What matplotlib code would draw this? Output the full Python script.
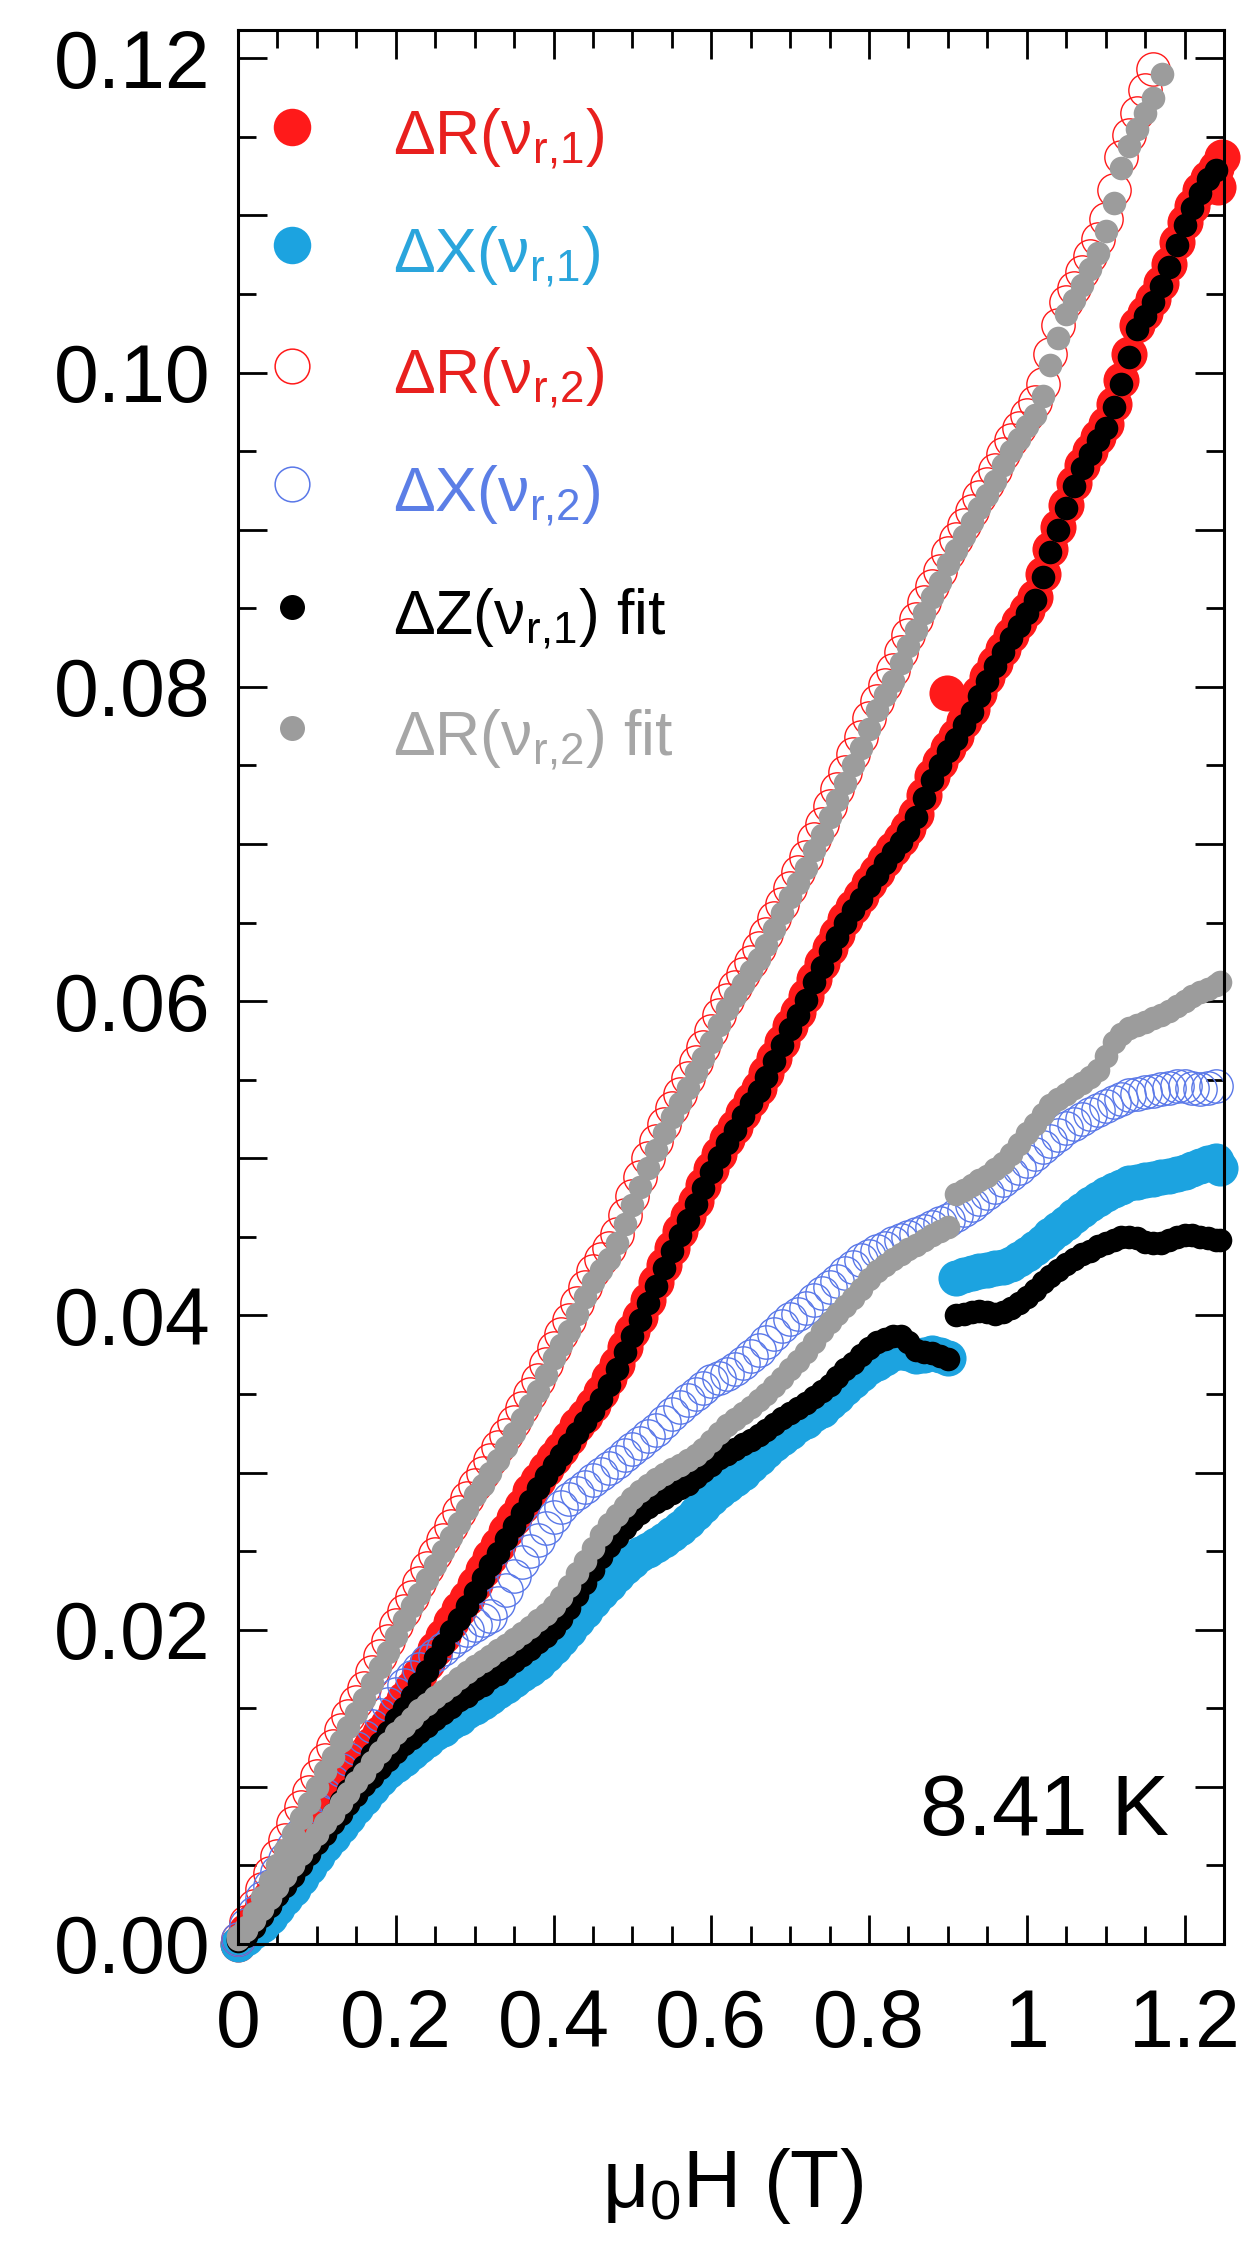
import numpy as np
import matplotlib
matplotlib.use("Agg")
import matplotlib.pyplot as plt
from matplotlib.ticker import MultipleLocator, FuncFormatter

plt.rcParams['font.family'] = ['Liberation Sans', 'DejaVu Sans']
plt.rcParams['mathtext.fontset'] = 'custom'
plt.rcParams['mathtext.rm'] = 'Liberation Sans'
plt.rcParams['mathtext.it'] = 'Liberation Sans:italic'
plt.rcParams['mathtext.bf'] = 'Liberation Sans:bold'

# field values (T)
field_a = [0.00, 0.01, 0.02, 0.03, 0.04, 0.05, 0.06, 0.07, 0.08, 0.09,
           0.10, 0.11, 0.12, 0.13, 0.14, 0.15, 0.16, 0.17, 0.18, 0.19,
           0.20, 0.21, 0.22, 0.23, 0.24, 0.25, 0.26, 0.27, 0.28, 0.29,
           0.30, 0.31, 0.32, 0.33, 0.34, 0.35, 0.36, 0.37, 0.38, 0.39,
           0.40, 0.41, 0.42, 0.43, 0.44, 0.45, 0.46, 0.47, 0.48, 0.49,
           0.50, 0.51, 0.52, 0.53, 0.54, 0.55, 0.56, 0.57, 0.58, 0.59,
           0.60, 0.61, 0.62, 0.63, 0.64, 0.65, 0.66, 0.67, 0.68, 0.69,
           0.70, 0.71, 0.72, 0.73, 0.74, 0.75, 0.76, 0.77, 0.78, 0.79,
           0.80, 0.81, 0.82, 0.83, 0.84, 0.85, 0.86, 0.87, 0.88, 0.89,
           0.90, 0.91, 0.92, 0.93, 0.94, 0.95, 0.96, 0.97, 0.98, 0.99,
           1.00, 1.01, 1.02, 1.03, 1.04, 1.05, 1.06, 1.07, 1.08, 1.09,
           1.10, 1.11, 1.12, 1.13, 1.14, 1.15, 1.16, 1.17, 1.18, 1.19,
           1.20, 1.21, 1.22, 1.23, 1.24]
field_r2 = field_a[:117]             # 0 .. 1.16
field_lo = field_a[:91]              # 0 .. 0.90, below the jump
field_hi = field_a[91:] + [1.245]    # 0.91 .. 1.245, above the jump

# dR(nu_r,1)  red filled
dR1 = [0.0000, 0.0008, 0.0015, 0.0023, 0.0030, 0.0037, 0.0045, 0.0053, 0.0060, 0.0068,
       0.0075, 0.0082, 0.0090, 0.0097, 0.0105, 0.0113, 0.0119, 0.0127, 0.0134, 0.0140,
       0.0148, 0.0156, 0.0163, 0.0171, 0.0179, 0.0188, 0.0196, 0.0205, 0.0213, 0.0220,
       0.0229, 0.0238, 0.0246, 0.0254, 0.0263, 0.0271, 0.0279, 0.0288, 0.0295, 0.0302,
       0.0309, 0.0315, 0.0322, 0.0330, 0.0336, 0.0343, 0.0351, 0.0360, 0.0369, 0.0380,
       0.0390, 0.0399, 0.0410, 0.0421, 0.0432, 0.0443, 0.0454, 0.0463, 0.0473, 0.0483,
       0.0493, 0.0503, 0.0512, 0.0520, 0.0529, 0.0537, 0.0545, 0.0554, 0.0564, 0.0574,
       0.0584, 0.0593, 0.0603, 0.0614, 0.0624, 0.0634, 0.0643, 0.0652, 0.0660, 0.0667,
       0.0675, 0.0682, 0.0690, 0.0697, 0.0703, 0.0710, 0.0719, 0.0731, 0.0743, 0.0752,
       0.0761, 0.0769, 0.0778, 0.0786, 0.0796, 0.0806, 0.0815, 0.0824, 0.0833, 0.0841,
       0.0849, 0.0857, 0.0872, 0.0888, 0.0902, 0.0916, 0.0930, 0.0941, 0.0950, 0.0959,
       0.0967, 0.0980, 0.0995, 0.1012, 0.1030, 0.1038, 0.1047, 0.1057, 0.1069, 0.1083,
       0.1096, 0.1106, 0.1116, 0.1124, 0.1130]
dR1_extra_x = [0.899, 1.247, 1.243]
dR1_extra_y = [0.0796, 0.1137, 0.1118]

# dX(nu_r,1)  light blue filled, below / above the jump
dX1_lo = [0.0000, 0.0004, 0.0008, 0.0012, 0.0017, 0.0023, 0.0029, 0.0035, 0.0042, 0.0049,
          0.0056, 0.0063, 0.0069, 0.0075, 0.0081, 0.0087, 0.0093, 0.0099, 0.0105, 0.0110,
          0.0114, 0.0118, 0.0122, 0.0126, 0.0130, 0.0134, 0.0137, 0.0141, 0.0144, 0.0148,
          0.0151, 0.0154, 0.0157, 0.0161, 0.0164, 0.0168, 0.0172, 0.0175, 0.0179, 0.0184,
          0.0189, 0.0194, 0.0200, 0.0206, 0.0212, 0.0218, 0.0224, 0.0229, 0.0235, 0.0240,
          0.0244, 0.0248, 0.0251, 0.0254, 0.0257, 0.0261, 0.0265, 0.0269, 0.0274, 0.0279,
          0.0284, 0.0288, 0.0292, 0.0296, 0.0300, 0.0305, 0.0309, 0.0314, 0.0318, 0.0322,
          0.0326, 0.0330, 0.0333, 0.0337, 0.0340, 0.0345, 0.0349, 0.0354, 0.0358, 0.0363,
          0.0367, 0.0370, 0.0373, 0.0376, 0.0377, 0.0376, 0.0374, 0.0375, 0.0376, 0.0375,
          0.0373]
dX1_hi = [0.0424, 0.0426, 0.0427, 0.0428, 0.0429, 0.0430, 0.0431, 0.0433, 0.0436, 0.0439,
          0.0443, 0.0447, 0.0451, 0.0455, 0.0459, 0.0463, 0.0467, 0.0471, 0.0474, 0.0477,
          0.0480, 0.0482, 0.0484, 0.0485, 0.0486, 0.0487, 0.0488, 0.0489, 0.0490, 0.0491,
          0.0493, 0.0495, 0.0497, 0.0498, 0.0494]

# dR(nu_r,2)  red open, 0 .. 1.16
dR2 = [0.0003, 0.0014, 0.0024, 0.0035, 0.0045, 0.0056, 0.0066, 0.0077, 0.0087, 0.0097,
       0.0107, 0.0117, 0.0126, 0.0136, 0.0145, 0.0154, 0.0163, 0.0173, 0.0183, 0.0193,
       0.0203, 0.0212, 0.0221, 0.0230, 0.0239, 0.0248, 0.0257, 0.0266, 0.0275, 0.0284,
       0.0292, 0.0300, 0.0308, 0.0316, 0.0324, 0.0332, 0.0341, 0.0350, 0.0359, 0.0369,
       0.0379, 0.0388, 0.0397, 0.0408, 0.0418, 0.0428, 0.0436, 0.0443, 0.0452, 0.0464,
       0.0476, 0.0488, 0.0500, 0.0511, 0.0522, 0.0532, 0.0541, 0.0551, 0.0561, 0.0571,
       0.0581, 0.0591, 0.0601, 0.0609, 0.0617, 0.0625, 0.0634, 0.0643, 0.0653, 0.0662,
       0.0672, 0.0682, 0.0692, 0.0703, 0.0713, 0.0724, 0.0735, 0.0746, 0.0757, 0.0768,
       0.0780, 0.0791, 0.0801, 0.0811, 0.0822, 0.0833, 0.0843, 0.0854, 0.0864, 0.0874,
       0.0885, 0.0894, 0.0903, 0.0912, 0.0921, 0.0929, 0.0938, 0.0948, 0.0957, 0.0965,
       0.0973, 0.0981, 0.0993, 0.1012, 0.1030, 0.1045, 0.1054, 0.1064, 0.1074, 0.1085,
       0.1098, 0.1116, 0.1137, 0.1151, 0.1165, 0.1180, 0.1193]

# dX(nu_r,2)  blue open
dX2 = [0.0003, 0.0012, 0.0020, 0.0029, 0.0037, 0.0046, 0.0054, 0.0062, 0.0070, 0.0078,
       0.0086, 0.0095, 0.0103, 0.0111, 0.0118, 0.0125, 0.0132, 0.0139, 0.0146, 0.0153,
       0.0159, 0.0165, 0.0170, 0.0175, 0.0180, 0.0184, 0.0188, 0.0192, 0.0196, 0.0200,
       0.0203, 0.0206, 0.0209, 0.0217, 0.0225, 0.0234, 0.0243, 0.0250, 0.0257, 0.0265,
       0.0272, 0.0278, 0.0283, 0.0287, 0.0291, 0.0295, 0.0299, 0.0303, 0.0307, 0.0311,
       0.0315, 0.0319, 0.0323, 0.0327, 0.0332, 0.0337, 0.0342, 0.0346, 0.0350, 0.0354,
       0.0358, 0.0360, 0.0363, 0.0366, 0.0370, 0.0374, 0.0378, 0.0383, 0.0388, 0.0393,
       0.0398, 0.0401, 0.0405, 0.0410, 0.0414, 0.0418, 0.0422, 0.0427, 0.0431, 0.0435,
       0.0438, 0.0441, 0.0443, 0.0446, 0.0448, 0.0450, 0.0452, 0.0454, 0.0456, 0.0459,
       0.0461, 0.0464, 0.0467, 0.0470, 0.0474, 0.0478, 0.0482, 0.0486, 0.0490, 0.0494,
       0.0498, 0.0503, 0.0507, 0.0511, 0.0515, 0.0519, 0.0522, 0.0525, 0.0528, 0.0531,
       0.0533, 0.0536, 0.0538, 0.0540, 0.0541, 0.0542, 0.0543, 0.0544, 0.0545, 0.0546,
       0.0546, 0.0545, 0.0544, 0.0545, 0.0546]

# dZ(nu_r,1) fit  black: track on dR1, and track on dX1 (two pieces)
fitZ_up = [0.0002, 0.0005, 0.0011, 0.0018, 0.0024, 0.0031, 0.0038, 0.0046, 0.0053, 0.0061,
           0.0068, 0.0076, 0.0083, 0.0091, 0.0098, 0.0106, 0.0113, 0.0121, 0.0128, 0.0135,
           0.0143, 0.0150, 0.0158, 0.0166, 0.0174, 0.0182, 0.0190, 0.0199, 0.0207, 0.0215,
           0.0224, 0.0233, 0.0241, 0.0249, 0.0258, 0.0266, 0.0274, 0.0282, 0.0290, 0.0298,
           0.0305, 0.0311, 0.0318, 0.0325, 0.0332, 0.0339, 0.0347, 0.0356, 0.0366, 0.0377,
           0.0387, 0.0397, 0.0408, 0.0419, 0.0430, 0.0441, 0.0451, 0.0461, 0.0471, 0.0481,
           0.0491, 0.0501, 0.0510, 0.0518, 0.0527, 0.0535, 0.0543, 0.0552, 0.0562, 0.0572,
           0.0582, 0.0591, 0.0601, 0.0612, 0.0622, 0.0632, 0.0641, 0.0650, 0.0658, 0.0665,
           0.0673, 0.0680, 0.0688, 0.0695, 0.0701, 0.0708, 0.0717, 0.0729, 0.0741, 0.0750,
           0.0759, 0.0767, 0.0776, 0.0784, 0.0794, 0.0804, 0.0813, 0.0822, 0.0831, 0.0839,
           0.0847, 0.0855, 0.0870, 0.0886, 0.0900, 0.0914, 0.0928, 0.0939, 0.0948, 0.0957,
           0.0965, 0.0978, 0.0993, 0.1010, 0.1028, 0.1036, 0.1045, 0.1055, 0.1067, 0.1081,
           0.1094, 0.1105, 0.1114, 0.1123, 0.1129]
fitZ_lo = [0.0003, 0.0008, 0.0014, 0.0019, 0.0025, 0.0031, 0.0037, 0.0043, 0.0050, 0.0057,
           0.0064, 0.0070, 0.0077, 0.0083, 0.0089, 0.0095, 0.0101, 0.0106, 0.0112, 0.0117,
           0.0122, 0.0127, 0.0131, 0.0135, 0.0139, 0.0143, 0.0147, 0.0151, 0.0155, 0.0158,
           0.0162, 0.0165, 0.0169, 0.0172, 0.0176, 0.0180, 0.0184, 0.0188, 0.0192, 0.0196,
           0.0201, 0.0207, 0.0214, 0.0222, 0.0230, 0.0238, 0.0246, 0.0253, 0.0259, 0.0265,
           0.0270, 0.0274, 0.0278, 0.0281, 0.0284, 0.0287, 0.0290, 0.0293, 0.0297, 0.0301,
           0.0305, 0.0309, 0.0312, 0.0315, 0.0318, 0.0321, 0.0324, 0.0327, 0.0331, 0.0335,
           0.0338, 0.0341, 0.0344, 0.0348, 0.0352, 0.0356, 0.0361, 0.0366, 0.0370, 0.0375,
           0.0379, 0.0383, 0.0385, 0.0387, 0.0387, 0.0383, 0.0378, 0.0377, 0.0376, 0.0374,
           0.0372]
fitZ_hi = [0.0400, 0.0401, 0.0402, 0.0403, 0.0402, 0.0401, 0.0402, 0.0405, 0.0408, 0.0412,
           0.0416, 0.0421, 0.0425, 0.0429, 0.0433, 0.0436, 0.0439, 0.0441, 0.0444, 0.0446,
           0.0448, 0.0450, 0.0450, 0.0449, 0.0447, 0.0446, 0.0446, 0.0448, 0.0450, 0.0451,
           0.0451, 0.0450, 0.0449, 0.0448, 0.0448]

# dR(nu_r,2) fit  gray: track on dR2, and lower track (two pieces)
fitR_up = [0.0005, 0.0011, 0.0020, 0.0030, 0.0040, 0.0050, 0.0060, 0.0070, 0.0080, 0.0090,
           0.0100, 0.0110, 0.0119, 0.0129, 0.0138, 0.0147, 0.0156, 0.0166, 0.0176, 0.0186,
           0.0196, 0.0206, 0.0215, 0.0223, 0.0232, 0.0241, 0.0250, 0.0259, 0.0268, 0.0277,
           0.0286, 0.0292, 0.0300, 0.0308, 0.0316, 0.0325, 0.0334, 0.0343, 0.0352, 0.0362,
           0.0373, 0.0381, 0.0390, 0.0401, 0.0412, 0.0421, 0.0429, 0.0436, 0.0446, 0.0458,
           0.0470, 0.0482, 0.0494, 0.0505, 0.0516, 0.0526, 0.0535, 0.0545, 0.0555, 0.0564,
           0.0574, 0.0585, 0.0595, 0.0603, 0.0611, 0.0619, 0.0627, 0.0636, 0.0646, 0.0656,
           0.0666, 0.0675, 0.0685, 0.0696, 0.0706, 0.0717, 0.0728, 0.0739, 0.0750, 0.0761,
           0.0773, 0.0785, 0.0795, 0.0804, 0.0815, 0.0826, 0.0836, 0.0847, 0.0857, 0.0867,
           0.0878, 0.0887, 0.0896, 0.0905, 0.0914, 0.0922, 0.0931, 0.0941, 0.0950, 0.0958,
           0.0966, 0.0973, 0.0985, 0.1005, 0.1022, 0.1037, 0.1046, 0.1056, 0.1066, 0.1076,
           0.1090, 0.1108, 0.1130, 0.1144, 0.1155, 0.1165, 0.1175]
fitR_up_end_x = [1.172]
fitR_up_end_y = [0.1190]
fitR_lo = [0.0003, 0.0009, 0.0015, 0.0022, 0.0029, 0.0036, 0.0043, 0.0050, 0.0057, 0.0064,
           0.0070, 0.0077, 0.0083, 0.0090, 0.0096, 0.0103, 0.0109, 0.0116, 0.0122, 0.0128,
           0.0134, 0.0139, 0.0144, 0.0149, 0.0153, 0.0157, 0.0161, 0.0165, 0.0169, 0.0173,
           0.0177, 0.0180, 0.0183, 0.0187, 0.0190, 0.0194, 0.0198, 0.0202, 0.0206, 0.0210,
           0.0215, 0.0221, 0.0228, 0.0236, 0.0244, 0.0252, 0.0260, 0.0267, 0.0273, 0.0279,
           0.0284, 0.0288, 0.0292, 0.0296, 0.0299, 0.0302, 0.0305, 0.0308, 0.0311, 0.0315,
           0.0320, 0.0325, 0.0330, 0.0334, 0.0338, 0.0342, 0.0346, 0.0350, 0.0355, 0.0360,
           0.0366, 0.0371, 0.0377, 0.0383, 0.0390, 0.0396, 0.0401, 0.0406, 0.0411, 0.0417,
           0.0423, 0.0428, 0.0432, 0.0436, 0.0439, 0.0442, 0.0445, 0.0448, 0.0451, 0.0454,
           0.0456]
fitR_hi = [0.0477, 0.0480, 0.0483, 0.0486, 0.0489, 0.0493, 0.0497, 0.0503, 0.0509, 0.0516,
           0.0522, 0.0528, 0.0534, 0.0538, 0.0541, 0.0545, 0.0548, 0.0552, 0.0556, 0.0565,
           0.0574, 0.0579, 0.0583, 0.0585, 0.0587, 0.0589, 0.0591, 0.0594, 0.0597, 0.0600,
           0.0603, 0.0606, 0.0608, 0.0610, 0.0612]

assert len(dR1) == len(field_a) == len(dX2) == len(fitZ_up)
assert len(dR2) == len(fitR_up) == len(field_r2)
assert len(dX1_lo) == len(fitZ_lo) == len(fitR_lo) == len(field_lo)
assert len(dX1_hi) == len(fitZ_hi) == len(fitR_hi) == len(field_hi)

RED = '#ff1a1a'
LBLUE = '#1ca3e0'
VBLUE = '#5a78e8'
GRAY = '#9c9c9c'

fig = plt.figure(figsize=(12.5, 22.44), dpi=100)
ax = fig.add_axes([238 / 1250, 1 - 1944 / 2244, 986 / 1250, 1914 / 2244])

kw = dict(ls='none', clip_on=False)
ax.plot(field_a + dR1_extra_x, dR1 + dR1_extra_y, 'o', ms=26, mfc=RED, mec=RED, mew=0, **kw)
ax.plot(field_lo + field_hi, dX1_lo + dX1_hi, 'o', ms=26, mfc=LBLUE, mec=LBLUE, mew=0, **kw)
ax.plot(field_r2, dR2, 'o', ms=24, mfc='none', mec=RED, mew=1.0, **kw)
ax.plot(field_a, dX2, 'o', ms=24, mfc='none', mec=VBLUE, mew=1.0, **kw)
ax.plot(field_a + field_lo + field_hi, fitZ_up + fitZ_lo + fitZ_hi, 'o', ms=17,
        mfc='black', mec='black', mew=0, **kw)
ax.plot(field_r2 + fitR_up_end_x + field_lo + field_hi,
        fitR_up + fitR_up_end_y + fitR_lo + fitR_hi, 'o', ms=17,
        mfc=GRAY, mec=GRAY, mew=0, **kw)

ax.set_xlim(0, 1.25)
ax.set_ylim(0, 0.1218)

ax.xaxis.set_major_locator(MultipleLocator(0.2))
ax.xaxis.set_minor_locator(MultipleLocator(0.05))
ax.yaxis.set_major_locator(MultipleLocator(0.01))
ax.yaxis.set_minor_locator(MultipleLocator(0.005))
ax.xaxis.set_major_formatter(FuncFormatter(lambda v, p: f'{v:g}'))
ax.yaxis.set_major_formatter(
    FuncFormatter(lambda v, p: f'{v:.2f}' if int(round(v / 0.01)) % 2 == 0 else ''))

ax.tick_params(which='both', direction='in', top=True, right=True, width=2, labelsize=58)
ax.tick_params(which='major', length=21)
ax.tick_params(which='minor', length=13)
ax.tick_params(axis='x', which='major', pad=32)
ax.tick_params(axis='y', which='major', pad=20)
for s in ax.spines.values():
    s.set_linewidth(2.2)

# legend drawn by hand
legend_rows = [
    (27, RED, RED, r'ΔR($\mathregular{\nu_{\text{r,1}}}$)', '#e8201e'),
    (27, LBLUE, LBLUE, r'ΔX($\mathregular{\nu_{\text{r,1}}}$)', '#2aa5dc'),
    (25, 'none', RED, r'ΔR($\mathregular{\nu_{\text{r,2}}}$)', '#e8201e'),
    (25, 'none', VBLUE, r'ΔX($\mathregular{\nu_{\text{r,2}}}$)', '#5b7ee6'),
    (18, 'black', 'black', r'ΔZ($\mathregular{\nu_{\text{r,1}}}$) fit', 'black'),
    (18, GRAY, GRAY, r'ΔR($\mathregular{\nu_{\text{r,2}}}$) fit', '#a6a6a6'),
]
row_y = [0.9493, 0.8877, 0.8245, 0.7628, 0.6985, 0.6353]
for (ms, fc, ec, label, tc), yy in zip(legend_rows, row_y):
    ax.plot([0.0548], [yy], 'o', ms=ms, mfc=fc, mec=ec, mew=1.1 if fc == 'none' else 0,
            transform=ax.transAxes, clip_on=False)
    ax.text(0.157, yy - 0.0146, label, transform=ax.transAxes, fontsize=45,
            color=tc, va='baseline', ha='left')

ax.text(0.944, 0.057, '8.41 K', transform=ax.transAxes, fontsize=62,
        ha='right', va='baseline')

fig.text(732 / 1250, 1 - 2207 / 2244, r'$\mathregular{\mu_0}$H (T)', fontsize=58,
         ha='center', va='baseline')

fig.savefig('out.png', dpi=100)
